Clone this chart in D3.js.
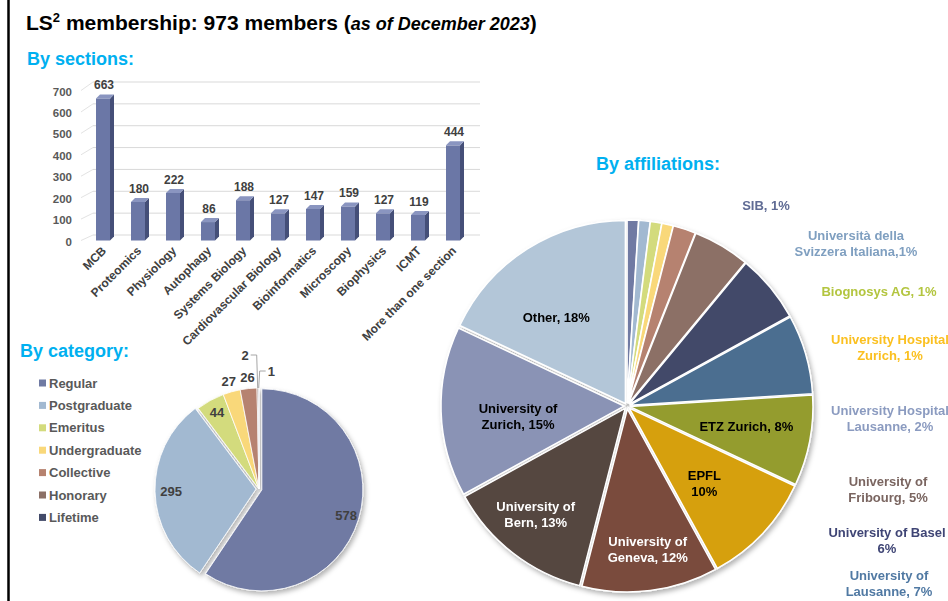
<!DOCTYPE html>
<html>
<head>
<meta charset="utf-8">
<script src="https://cdn.jsdelivr.net/npm/d3@7"></script>
<style>
    body { margin: 0; background: #fff; }
    svg { display: block; font-family: "Liberation Sans", Arial, sans-serif; font-weight: bold; }
</style>
</head>
<body>
<div id="chart"></div>
<script>
'use strict'

// Sections (bar chart).
const sections = ['MCB', 'Proteomics', 'Physiology', 'Autophagy', 'Systems Biology', 'Cardiovascular Biology',
    'Bioinformatics', 'Microscopy', 'Biophysics', 'ICMT', 'More than one section'];
const sectionCounts = [663, 180, 222, 86, 188, 127, 147, 159, 127, 119, 444];
const sectionTicks = [0, 100, 200, 300, 400, 500, 600, 700];

// Categories (small pie), clockwise from 12 o'clock.
const categories = ['Regular', 'Postgraduate', 'Emeritus', 'Undergraduate', 'Collective', 'Honorary', 'Lifetime'];
const categoryCounts = [578, 295, 44, 27, 26, 2, 1];
const categoryColors = ['#6f7aa3', '#a2b9d1', '#d3db7d', '#f9d87a', '#b6826f', '#8c7066', '#424a69'];

// Affiliations (big pie), clockwise from 12 o'clock.
const affiliations = ['SIB', 'Università della Svizzera Italiana', 'Biognosys AG', 'University Hospital Zurich',
    'University Hospital Lausanne', 'University of Fribourg', 'University of Basel', 'University of Lausanne',
    'ETZ Zurich', 'EPFL', 'University of Geneva', 'University of Bern', 'University of Zurich', 'Other'];
const affiliationPct = [1, 1, 1, 1, 2, 5, 6, 7, 8, 10, 12, 13, 15, 18];
const affiliationLabels = [['SIB, 1%'], ['Università della', 'Svizzera Italiana,1%'], ['Biognosys AG, 1%'],
    ['University Hospital', 'Zurich, 1%'], ['University Hospital', 'Lausanne, 2%'], ['University of', 'Fribourg, 5%'],
    ['University of Basel', '6%'], ['University of', 'Lausanne, 7%'], ['ETZ Zurich, 8%'], ['EPFL', '10%'],
    ['University of', 'Geneva, 12%'], ['University of', 'Bern, 13%'], ['University of', 'Zurich, 15%'], ['Other, 18%']];
const affiliationColors = ['#6f7aa3', '#a2b9d1', '#d3db7d', '#f9d87a', '#b6826f', '#8c7066', '#424a69',
    '#4b6e90', '#949c2f', '#d6a00f', '#7a4b3c', '#554641', '#8a93b5', '#b3c6d8'];
const affiliationTextColors = ['#5f6b94', '#7f9fc0', '#b3c53f', '#fbc020', '#8b9bc0', '#7a6560', '#3f4575',
    '#5079a3', '#000', '#000', '#fff', '#fff', '#000', '#000'];

const width = 948, height = 601;

const svg = d3.select('#chart')
    .append('svg')
    .attr('width', width)
    .attr('height', height);

const defs = svg.append('defs');
defs.append('filter')
    .attr('id', 'shadow')
    .attr('x', '-10%').attr('y', '-10%').attr('width', '125%').attr('height', '125%')
    .append('feDropShadow')
    .attr('dx', 2).attr('dy', 3)
    .attr('stdDeviation', 2.5)
    .attr('flood-color', '#000')
    .attr('flood-opacity', 0.3);

// Left frame line.
svg.append('line')
    .attr('x1', 8.5).attr('x2', 8.5)
    .attr('y1', 0).attr('y2', height)
    .attr('stroke', '#000')
    .attr('stroke-width', 2.5);

// Titles.
const title = svg.append('text')
    .attr('x', 26).attr('y', 30)
    .style('font-size', '21px')
    .attr('fill', '#000');
title.append('tspan').text('LS');
title.append('tspan').text('2').attr('dy', -8).style('font-size', '13px');
title.append('tspan').text(' membership: 973 members (').attr('dy', 8);
title.append('tspan').text('as of December 2023').style('font-style', 'italic').style('font-size', '18px');
title.append('tspan').text(')');

const heading = (txt, x, y, anchor) => svg.append('text')
    .attr('x', x).attr('y', y)
    .attr('text-anchor', anchor || 'start')
    .attr('fill', '#00b0f0')
    .style('font-size', '18px')
    .text(txt);

heading('By sections:', 27, 65);
heading('By category:', 20, 357);
heading('By affiliations:', 658, 170, 'middle');

// ---------------- Bar chart ----------------
const x = d3.scaleBand()
    .domain(sections)
    .range([85.5, 470.5])
    .paddingInner(0.6)
    .paddingOuter(0.3);

const yFront = d3.scaleLinear().domain([0, 700]).range([240.5, 90.5]);
const yBack = d3.scaleLinear().domain([0, 700]).range([235, 82]);
const depth = 4;

const bars = svg.append('g');

// back wall grid with little floor diagonals
bars.selectAll('line.grid')
    .data(sectionTicks)
    .join('line')
    .attr('class', 'grid')
    .attr('x1', 93).attr('x2', 480)
    .attr('y1', d => yBack(d)).attr('y2', d => yBack(d))
    .attr('stroke', '#d9d9d9');

bars.selectAll('line.diag')
    .data(sectionTicks)
    .join('line')
    .attr('class', 'diag')
    .attr('x1', 81).attr('x2', 93)
    .attr('y1', d => yFront(d)).attr('y2', d => yBack(d))
    .attr('stroke', '#e3e3e3');

bars.selectAll('text.tick')
    .data(sectionTicks)
    .join('text')
    .attr('class', 'tick')
    .attr('x', 72)
    .attr('y', d => yFront(d) + 1)
    .attr('dy', '0.35em')
    .attr('text-anchor', 'end')
    .attr('fill', '#595959')
    .style('font-size', '11.5px')
    .text(d => d);

const barData = sections.map((s, i) => ({ name: s, value: sectionCounts[i] }));
const bw = x.bandwidth();

const bar = bars.selectAll('g.bar')
    .data(barData)
    .join('g')
    .attr('class', 'bar');

bar.append('rect')
    .attr('x', d => x(d.name))
    .attr('y', d => yFront(d.value))
    .attr('width', bw)
    .attr('height', d => yFront(0) - yFront(d.value))
    .attr('fill', '#6b77a6');

bar.append('path')
    .attr('fill', '#454f78')
    .attr('d', d => {
        const x0 = x(d.name) + bw, y0 = yFront(d.value), y1 = yFront(0);
        return `M${x0},${y0}L${x0 + depth},${y0 - depth}L${x0 + depth},${y1 - depth}L${x0},${y1}Z`;
    });

bar.append('path')
    .attr('fill', '#8a95c0')
    .attr('d', d => {
        const x0 = x(d.name), y0 = yFront(d.value);
        return `M${x0},${y0}L${x0 + depth},${y0 - depth}L${x0 + bw + depth},${y0 - depth}L${x0 + bw},${y0}Z`;
    });

bar.append('text')
    .attr('x', d => x(d.name) + bw / 2 + 1)
    .attr('y', d => yFront(d.value) - 9)
    .attr('text-anchor', 'middle')
    .attr('fill', '#404040')
    .style('font-size', '12px')
    .text(d => d.value);

bars.selectAll('text.cat')
    .data(sections)
    .join('text')
    .attr('class', 'cat')
    .attr('text-anchor', 'end')
    .attr('transform', d => `translate(${x(d) + bw / 2 + 4},${yFront(0) + 11}) rotate(-45)`)
    .attr('fill', '#404040')
    .style('font-size', '12px')
    .text(d => d);

// ---------------- Category pie ----------------
const catCenter = [259, 489], catR = 101;
const catExplode = [3, 3, 0, 0, 0, 0, 0];

const catPie = d3.pie().sort(null).value(d => d)(categoryCounts);
const catArc = d3.arc().innerRadius(0).outerRadius(catR);
const polar = (c, ang, r) => [c[0] + r * Math.sin(ang), c[1] - r * Math.cos(ang)];

const catG = svg.append('g')
    .attr('transform', `translate(${catCenter})`);

catG.append('g')
    .attr('filter', 'url(#shadow)')
    .selectAll('path')
    .data(catPie)
    .join('path')
    .attr('d', catArc)
    .attr('fill', (d, i) => categoryColors[i])
    .attr('stroke', '#fff')
    .attr('stroke-width', 0.8)
    .attr('transform', (d, i) => {
        const a = (d.startAngle + d.endAngle) / 2;
        return `translate(${catExplode[i] * Math.sin(a)},${-catExplode[i] * Math.cos(a)})`;
    });

// labels: inside for big slices, outside for small ones
const catLabelR = [91, 88, 87, 112, 112];
catPie.slice(0, 5).forEach((d, i) => {
    const a = (d.startAngle + d.endAngle) / 2;
    const p = polar([0, 0], a, catLabelR[i]);
    catG.append('text')
        .attr('x', p[0]).attr('y', p[1])
        .attr('dy', '0.35em')
        .attr('text-anchor', 'middle')
        .attr('fill', '#404040')
        .style('font-size', '13px')
        .text(categoryCounts[i]);
});

// leader lines for the two tiny slices
[[5, 134, -1], [6, 118, 1]].forEach(([i, rise, dir]) => {
    const d = catPie[i];
    const a = (d.startAngle + d.endAngle) / 2;
    const p = polar([0, 0], a, catR);
    const yTop = -rise;
    catG.append('path')
        .attr('fill', 'none')
        .attr('stroke', '#a6a6a6')
        .attr('d', `M${p[0]},${p[1]}L${p[0] + dir},${yTop}L${p[0] + dir * 7},${yTop}`);
    catG.append('text')
        .attr('x', p[0] + dir * 9).attr('y', yTop)
        .attr('dy', '0.35em')
        .attr('text-anchor', dir < 0 ? 'end' : 'start')
        .attr('fill', '#404040')
        .style('font-size', '13px')
        .text(categoryCounts[i]);
});

// legend
const legend = svg.append('g')
    .attr('transform', 'translate(39,383)');
const lg = legend.selectAll('g')
    .data(categories)
    .join('g')
    .attr('transform', (d, i) => `translate(0,${i * 22.4})`);
lg.append('rect')
    .attr('x', 0).attr('y', -3.5)
    .attr('width', 7).attr('height', 7)
    .attr('fill', (d, i) => categoryColors[i]);
lg.append('text')
    .attr('x', 10).attr('dy', '0.35em')
    .attr('fill', '#595959')
    .style('font-size', '13px')
    .text(d => d);

// ---------------- Affiliation pie ----------------
const affCenter = [627, 406], affR = 183, affExplode = 3;
const affPie = d3.pie().sort(null).value(d => d)(affiliationPct);
const affArc = d3.arc().innerRadius(0).outerRadius(affR);

const affG = svg.append('g')
    .attr('transform', `translate(${affCenter})`);

affG.append('g')
    .attr('filter', 'url(#shadow)')
    .selectAll('path')
    .data(affPie)
    .join('path')
    .attr('d', affArc)
    .attr('fill', (d, i) => affiliationColors[i])
    .attr('stroke', '#fff')
    .attr('stroke-width', 1.5)
    .attr('transform', d => {
        const a = (d.startAngle + d.endAngle) / 2;
        return `translate(${affExplode * Math.sin(a)},${-affExplode * Math.cos(a)})`;
    });

// label placement (inside labels in polar form [deg, r], outside labels in a column)
const insidePos = { 8: [102, 122], 9: [136.8, 113], 10: [172, 149], 11: [219, 145], 12: [262, 110], 13: [320, 110] };
const outsidePos = [[766, 210], [856, 240], [879, 296], [890, 344], [890, 415], [888, 486], [887, 537], [889, 580]];
const lineH = 16;

affiliationLabels.forEach((lines, i) => {
    let px, py;
    if (insidePos[i]) {
        const [deg, r] = insidePos[i];
        const p = polar(affCenter, deg * Math.PI / 180, r);
        px = p[0];
        py = p[1] - (lines.length - 1) * lineH / 2;
    } else {
        [px, py] = outsidePos[i];
    }
    const t = svg.append('text')
        .attr('text-anchor', 'middle')
        .attr('fill', affiliationTextColors[i])
        .style('font-size', '13px');
    lines.forEach((l, j) => {
        t.append('tspan')
            .attr('x', px)
            .attr('y', py + j * lineH)
            .text(l);
    });
});
</script>
</body>
</html>
